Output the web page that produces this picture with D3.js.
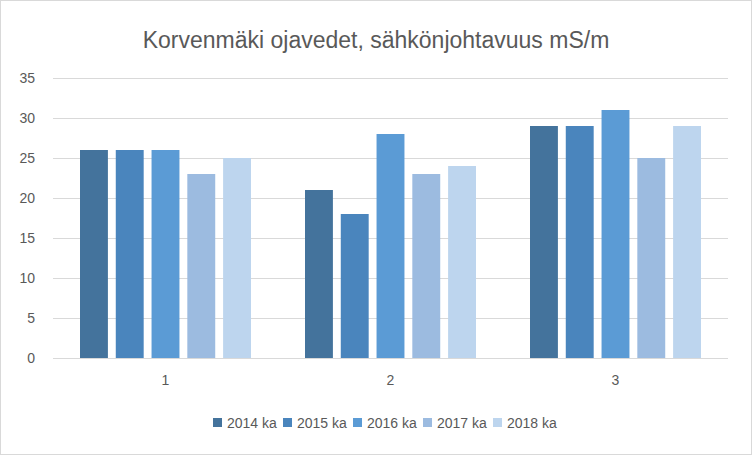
<!DOCTYPE html>
<html><head><meta charset="utf-8">
<script src="https://cdn.jsdelivr.net/npm/d3@7"></script>
<style>body{margin:0;background:#fff}svg{font-family:"Liberation Sans",Arial,sans-serif}</style>
</head><body>
<script>
var categories = ["1", "2", "3"];
var seriesNames = ["2014 ka", "2015 ka", "2016 ka", "2017 ka", "2018 ka"];
var values = [
  [26, 21, 29],
  [26, 18, 29],
  [26, 28, 31],
  [23, 23, 25],
  [25, 24, 29]
];
var colors = ["#44739c", "#4a85bd", "#5b9bd5", "#9cbbe0", "#bdd5ee"];
var yTicks = [0, 5, 10, 15, 20, 25, 30, 35];

var svg = d3.select("body").append("svg").attr("width", 752).attr("height", 455);
svg.append("rect").attr("x", 0.5).attr("y", 0.5).attr("width", 751).attr("height", 454)
  .attr("fill", "#fff").attr("stroke", "#d9d9d9");

svg.append("text").attr("x", 376).attr("y", 48).attr("text-anchor", "middle")
  .attr("font-size", 23).attr("fill", "#595959").text("Korvenmäki ojavedet, sähkönjohtavuus mS/m");

var x = d3.scaleBand().domain(categories).range([53, 728]);
var y = d3.scaleLinear().domain([0, 35]).range([358, 78]);
var inner = d3.scaleBand().domain(d3.range(seriesNames.length)).range([27, 198]).paddingInner(0.22);

svg.selectAll(".grid").data(yTicks).enter().append("line")
  .attr("x1", 53).attr("x2", 728)
  .attr("y1", function(d) { return y(d) + 0.5; }).attr("y2", function(d) { return y(d) + 0.5; })
  .attr("stroke", "#d9d9d9");

svg.selectAll(".ylab").data(yTicks).enter().append("text")
  .attr("x", 35).attr("y", function(d) { return y(d) + 5; }).attr("text-anchor", "end")
  .attr("font-size", 14).attr("fill", "#595959").text(function(d) { return d; });

seriesNames.forEach(function(name, s) {
  svg.selectAll(".bar" + s).data(categories).enter().append("rect")
    .attr("x", function(c) { return x(c) + inner(s); })
    .attr("width", inner.bandwidth())
    .attr("y", function(c, i) { return y(values[s][i]); })
    .attr("height", function(c, i) { return y(0) - y(values[s][i]); })
    .attr("fill", colors[s]);
});

svg.selectAll(".xlab").data(categories).enter().append("text")
  .attr("x", function(c) { return x(c) + x.bandwidth() / 2; }).attr("y", 385)
  .attr("text-anchor", "middle").attr("font-size", 14).attr("fill", "#595959").text(function(c) { return c; });

var leg = svg.selectAll(".leg").data(seriesNames).enter().append("g")
  .attr("transform", function(d, i) { return "translate(" + (213 + i * 70) + ",423)"; });
leg.append("rect").attr("x", 0).attr("y", -5).attr("width", 9).attr("height", 9)
  .attr("fill", function(d, i) { return colors[i]; });
leg.append("text").attr("x", 14).attr("y", 5).attr("font-size", 14).attr("fill", "#595959")
  .text(function(d) { return d; });
</script>
</body></html>
